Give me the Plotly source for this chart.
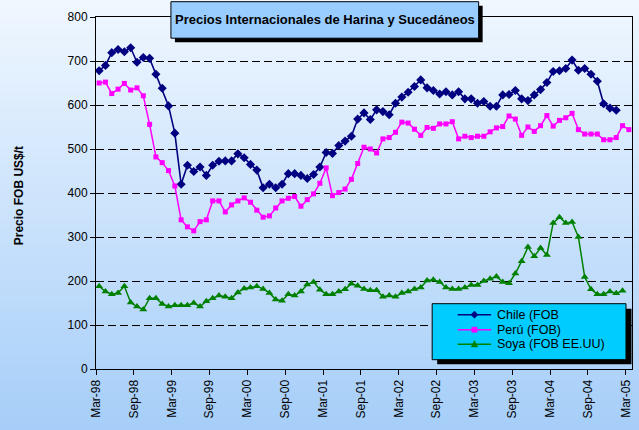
import plotly.graph_objects as go

# ---------------- data ----------------
tick_labels = ["Mar-98", "Sep-98", "Mar-99", "Sep-99", "Mar-00", "Sep-00", "Mar-01",
               "Sep-01", "Mar-02", "Sep-02", "Mar-03", "Sep-03", "Mar-04", "Sep-04", "Mar-05"]

series_names = ["Chile (FOB", "Perú (FOB)", "Soya (FOB EE.UU)"]
series_colors = ["#000080", "#ff00ff", "#008000"]

chile = [678, 690, 719, 726, 721, 730, 697, 708, 706, 670,
         638, 598, 536, 420, 463, 449, 459, 440, 463, 472,
         473, 473, 489, 480, 465, 452, 412, 420, 412, 420,
         444, 444, 440, 433, 442, 459, 492, 490, 508, 518,
         529, 568, 582, 567, 589, 585, 578, 604, 618, 629,
         642, 657, 639, 633, 625, 630, 623, 630, 614, 614,
         604, 608, 597, 597, 623, 624, 633, 614, 610, 623,
         635, 651, 676, 678, 683, 702, 679, 683, 670, 654,
         603, 593, 588]

peru = [650, 652, 626, 636, 649, 634, 639, 621, 556, 482,
        469, 451, 416, 339, 323, 314, 335, 339, 382, 382,
        357, 373, 382, 389, 379, 361, 345, 348, 366, 382,
        388, 392, 370, 385, 398, 422, 457, 394, 401, 409,
        431, 467, 504, 500, 491, 523, 526, 538, 561, 559,
        545, 531, 549, 547, 557, 557, 562, 523, 529, 526,
        529, 529, 539, 548, 551, 575, 568, 531, 550, 540,
        553, 576, 552, 565, 571, 581, 544, 534, 534, 534,
        521, 521, 526, 553, 544]

soya = [188, 176, 170, 173, 188, 151, 142, 135, 161, 161,
        148, 142, 145, 145, 145, 150, 142, 154, 161, 167,
        164, 161, 174, 183, 185, 188, 182, 173, 158, 155,
        170, 167, 176, 192, 198, 180, 170, 170, 176, 181,
        194, 189, 182, 179, 179, 164, 167, 164, 173, 176,
        182, 185, 201, 203, 198, 185, 182, 182, 185, 191,
        191, 200, 205, 210, 198, 195, 217, 245, 277, 256,
        275, 259, 332, 345, 332, 334, 300, 209, 181, 170,
        170, 176, 172, 178]

n_months = len(peru)
x_chile = list(range(len(chile)))
x_peru = list(range(len(peru)))
x_soya = list(range(len(soya)))
tick_pos = [6 * k - 0.5 for k in range(len(tick_labels))]

FONT = "Arial, Liberation Sans, sans-serif"

# ---------------- geometry helpers ----------------
W, H = 639, 430
L, R, T, B = 95.5, 632.0, 17.3, 369.3   # plot area in pixels


def px(xp):
    return (xp - L) / (R - L)


def py(yp):
    return (B - yp) / (B - T)


fig = go.Figure()

fig.add_trace(go.Scatter(x=x_chile, y=chile, name=series_names[0], mode="lines+markers",
                         line=dict(color=series_colors[0], width=1.6),
                         marker=dict(symbol="diamond", size=7, color=series_colors[0])))
fig.add_trace(go.Scatter(x=x_peru, y=peru, name=series_names[1], mode="lines+markers",
                         line=dict(color=series_colors[1], width=1.5),
                         marker=dict(symbol="square", size=5, color=series_colors[1])))
fig.add_trace(go.Scatter(x=x_soya, y=soya, name=series_names[2], mode="lines+markers",
                         line=dict(color=series_colors[2], width=1.5),
                         marker=dict(symbol="triangle-up", size=7, color=series_colors[2])))

shapes = []
# background gradient
top_c = (0xF0, 0xF7, 0xFF)
bot_c = (0xA6, 0xCE, 0xF8)
N = 60
for k in range(N):
    y0p = H * k / N
    y1p = H * (k + 1) / N
    t = (k + 0.5) / N
    c = tuple(int(round(top_c[j] + (bot_c[j] - top_c[j]) * t)) for j in range(3))
    shapes.append(dict(type="rect", xref="paper", yref="paper", layer="below",
                       x0=px(-2), x1=px(W + 2), y0=py(y0p - 0.5), y1=py(y1p + 0.5),
                       fillcolor="rgb(%d,%d,%d)" % c, line=dict(width=0)))

# title box shadow + box
shapes.append(dict(type="rect", xref="paper", yref="paper", layer="above",
                   x0=px(174.5), x1=px(482.5), y0=py(42.5), y1=py(6),
                   fillcolor="black", line=dict(width=0)))
shapes.append(dict(type="rect", xref="paper", yref="paper", layer="above",
                   x0=px(170.5), x1=px(478.5), y0=py(38.5), y1=py(2),
                   fillcolor="#99ccff", line=dict(color="black", width=1)))

# legend box (shadow + box)
shapes.append(dict(type="rect", xref="paper", yref="paper", layer="above",
                   x0=px(437), x1=px(631.5), y0=py(364.5), y1=py(309),
                   fillcolor="black", line=dict(width=0)))
shapes.append(dict(type="rect", xref="paper", yref="paper", layer="above",
                   x0=px(432), x1=px(626), y0=py(360), y1=py(304),
                   fillcolor="#00ccff", line=dict(color="black", width=1)))

annotations = [
    dict(text="<b>Precios Internacionales de Harina y Sucedáneos</b>",
         xref="paper", yref="paper", x=px(324.5), y=py(19.5),
         xanchor="center", yanchor="middle", showarrow=False,
         font=dict(family=FONT, size=13, color="black")),
    dict(text="<b>Precio FOB US$/t</b>", textangle=-90,
         xref="paper", yref="paper", x=px(18), y=py(196),
         xanchor="center", yanchor="middle", showarrow=False,
         font=dict(family=FONT, size=12, color="black")),
]

# legend entries
row_y = [315.0, 330.0, 344.5]
line_x0, line_x1, sym_x, text_x = 457.5, 491.0, 474.3, 494.5
for k in range(3):
    yy = row_y[k]
    col = series_colors[k]
    shapes.append(dict(type="line", xref="paper", yref="paper", layer="above",
                       x0=px(line_x0), x1=px(line_x1), y0=py(yy), y1=py(yy),
                       line=dict(color=col, width=1.5)))
    if k == 0:
        d = 3.6
        path = "M %f,%f L %f,%f L %f,%f L %f,%f Z" % (
            px(sym_x - d), py(yy), px(sym_x), py(yy - d),
            px(sym_x + d), py(yy), px(sym_x), py(yy + d))
    elif k == 1:
        d = 2.6
        path = "M %f,%f L %f,%f L %f,%f L %f,%f Z" % (
            px(sym_x - d), py(yy - d), px(sym_x + d), py(yy - d),
            px(sym_x + d), py(yy + d), px(sym_x - d), py(yy + d))
    else:
        d = 3.4
        path = "M %f,%f L %f,%f L %f,%f Z" % (
            px(sym_x - d), py(yy + d * 0.8), px(sym_x + d), py(yy + d * 0.8),
            px(sym_x), py(yy - d * 1.1))
    shapes.append(dict(type="path", xref="paper", yref="paper", layer="above",
                       path=path, fillcolor=col, line=dict(color=col, width=0.5)))
    annotations.append(dict(text=series_names[k], xref="paper", yref="paper",
                            x=px(text_x), y=py(yy), xanchor="left", yanchor="middle",
                            showarrow=False,
                            font=dict(family=FONT, size=12.5, color="black")))

fig.update_layout(
    width=W, height=H,
    margin=dict(l=L, r=W - R, t=T, b=H - B, pad=0, autoexpand=False),
    paper_bgcolor="#cfe5fb",
    plot_bgcolor="rgba(0,0,0,0)",
    font=dict(family=FONT, size=12, color="black"),
    shapes=shapes,
    annotations=annotations,
    showlegend=False,
)

fig.update_xaxes(range=[-0.5, n_months - 0.5], tickmode="array",
                 tickvals=tick_pos, ticktext=tick_labels, tickangle=-90,
                 ticks="outside", ticklen=5, tickcolor="black",
                 showline=True, linecolor="black", linewidth=1, mirror=True,
                 showgrid=False, zeroline=False,
                 tickfont=dict(family=FONT, size=12, color="black"))
fig.update_yaxes(range=[0, 800], dtick=100, tick0=0,
                 ticks="outside", ticklen=5, tickcolor="black",
                 showline=True, linecolor="black", linewidth=1, mirror=True,
                 showgrid=True, gridcolor="black", gridwidth=1, griddash="8px,4px",
                 zeroline=False,
                 tickfont=dict(family=FONT, size=12, color="black"))

fig.write_html("out.html",
               config={"displayModeBar": False},
               post_script="document.body.style.margin='0px';"
                           "document.body.style.overflow='hidden';")
